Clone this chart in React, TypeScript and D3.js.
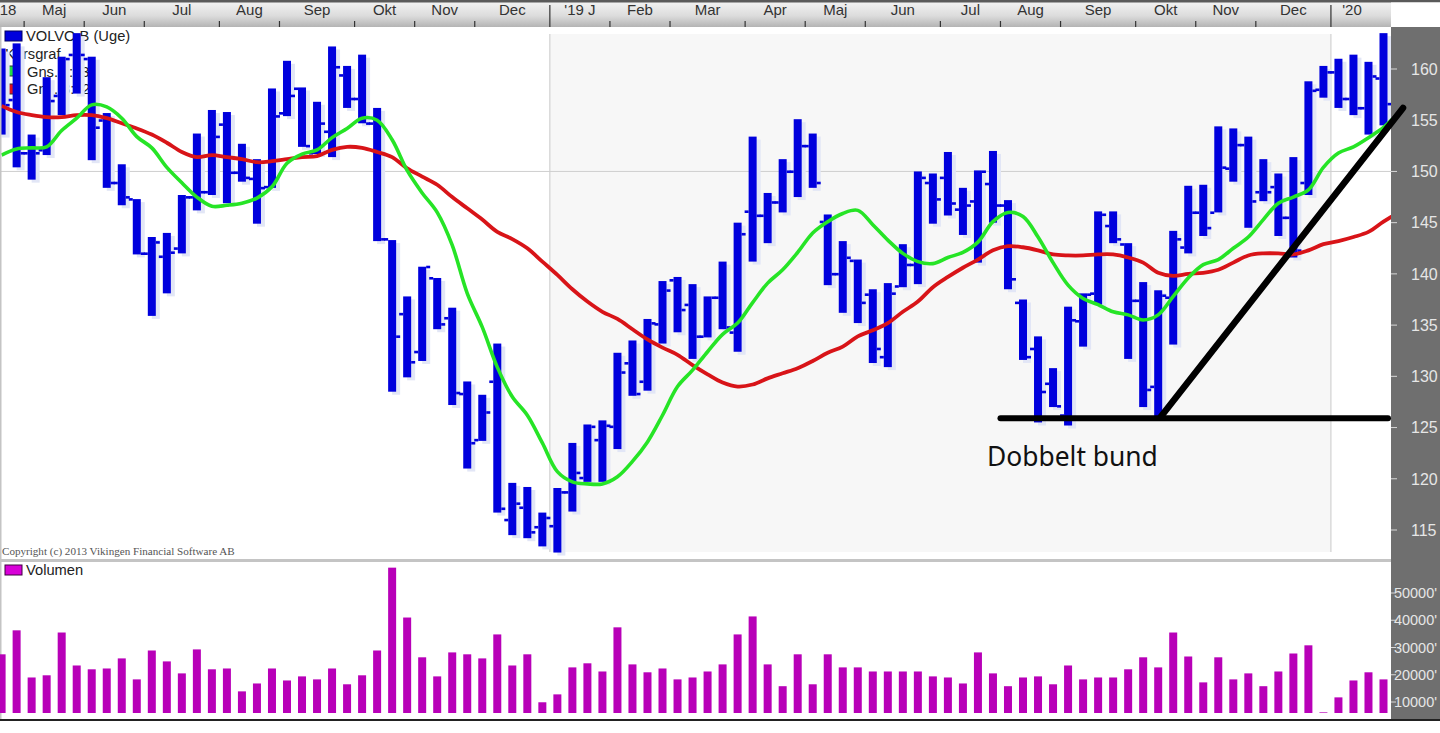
import React from "react";
import * as d3 from "d3";

const highs = [162.0,162.5,153.6,159.2,161.2,163.5,161.2,155.7,150.7,147.3,143.6,144.0,147.7,153.7,156.0,155.8,152.7,151.2,158.1,160.8,158.2,156.8,162.2,160.3,161.4,156.2,143.3,137.8,140.7,139.6,136.7,129.5,128.2,133.2,119.6,119.2,116.7,119.1,123.5,125.3,125.7,132.3,133.5,135.6,139.3,139.7,139.0,137.8,141.2,145.0,153.4,147.9,151.2,155.1,153.7,145.8,143.2,141.4,138.5,139.1,142.9,150.0,149.8,151.9,148.4,150.1,152.0,147.2,137.5,133.9,130.8,136.8,138.1,146.1,146.1,143.0,139.2,138.4,144.2,148.6,148.7,154.4,154.2,153.4,151.2,149.8,151.4,158.8,160.3,161.0,161.4,160.7,163.5];
const lows = [153.6,150.4,149.2,151.6,155.5,157.6,151.1,148.4,146.7,141.9,135.9,138.1,142.0,146.2,147.7,146.9,149.0,144.9,148.4,155.4,152.4,151.7,151.4,156.2,154.7,143.2,128.5,129.9,131.5,134.6,127.2,121.0,123.7,116.7,114.5,114.2,113.4,112.8,116.8,119.7,119.7,122.9,128.1,128.6,133.2,134.3,131.7,133.8,134.6,132.4,141.2,143.0,146.0,147.5,148.4,138.9,136.2,135.2,131.3,130.9,138.7,139.0,144.9,145.7,143.8,141.1,145.0,138.5,131.6,125.5,127.0,125.2,132.9,137.0,143.0,131.7,127.0,126.0,133.1,142.0,143.7,146.0,149.0,144.5,147.1,143.7,141.6,147.7,157.2,156.2,155.5,153.6,154.5];
const opens = [160.9,157.0,151.8,152.1,157.4,161.4,161.0,155.0,148.9,147.3,142.0,141.7,142.5,147.5,148.0,154.6,149.9,149.3,148.5,155.7,158.1,151.8,153.9,159.4,157.1,154.7,143.4,136.1,132.4,139.6,135.7,128.3,123.8,129.5,116.0,117.2,115.3,115.4,118.7,120.1,123.8,125.1,131.3,129.5,135.1,139.4,137.0,133.9,137.7,134.3,146.1,145.7,147.0,150.0,152.5,145.1,140.0,141.3,138.0,131.9,138.8,140.9,148.9,149.4,146.3,147.1,148.8,146.7,137.2,132.7,129.3,126.2,135.4,138.1,144.7,142.9,137.4,129.0,137.7,142.6,146.0,146.0,150.3,152.6,148.0,148.5,145.5,148.9,158.0,159.7,157.1,156.2,159.1];
const closes = [156.5,151.8,151.8,156.9,161.0,161.4,154.3,148.9,147.5,142.0,143.1,142.1,147.5,148.0,153.4,149.9,149.4,148.4,155.4,157.4,152.5,154.7,160.2,157.1,154.7,143.4,133.9,131.4,140.7,135.1,128.4,123.5,126.5,117.1,117.6,114.8,116.2,118.7,120.6,125.1,125.2,130.4,128.3,135.2,138.4,136.5,133.9,137.7,134.8,143.9,145.7,147.0,150.0,152.5,148.9,140.0,141.6,137.2,132.7,138.1,140.9,149.4,147.3,146.9,146.7,150.0,146.7,139.5,131.9,128.5,127.1,135.5,138.0,145.8,143.4,137.4,128.7,137.9,143.4,146.0,144.5,150.4,152.6,147.1,148.0,145.5,142.3,157.9,159.7,157.1,156.2,159.3,156.6];
const avgShort = [151.6,152.2,152.3,152.4,154.0,155.2,156.5,156.3,155.2,153.4,152.3,150.4,148.9,147.5,146.6,146.7,146.9,147.4,148.5,150.8,151.7,152.1,153.3,154.2,155.2,155.0,153.1,150.1,147.9,146.0,142.8,138.1,134.8,130.9,128.0,126.2,123.5,120.7,119.7,119.5,119.5,120.2,121.7,123.6,126.2,129.0,130.6,132.4,134.1,135.2,137.2,139.1,140.4,142.1,144.0,145.1,145.9,146.2,144.8,143.3,142.0,141.2,141.0,141.6,142.1,143.1,145.1,146.0,145.6,143.6,141.1,138.9,137.6,137.0,136.3,136.0,135.5,136.0,137.8,139.6,140.9,141.4,142.5,143.6,145.3,146.9,147.5,148.2,150.4,151.8,152.4,153.3,154.3,155.7];
const avgLong = [156.4,155.8,155.5,155.3,155.3,155.5,155.5,155.2,154.7,154.2,153.6,152.8,151.9,151.4,151.6,151.4,151.2,150.9,151.0,151.2,151.4,151.5,152.1,152.4,152.3,151.9,151.4,150.3,149.5,148.7,147.5,146.4,145.3,144.1,143.4,142.5,141.2,139.9,138.5,137.3,136.3,135.6,134.6,133.6,132.8,132.1,131.1,130.2,129.4,129.0,129.2,129.8,130.3,130.8,131.5,132.3,132.9,133.9,134.5,135.2,136.3,137.3,138.7,139.7,140.6,141.4,142.3,142.7,142.6,142.3,141.9,141.8,141.8,141.9,141.9,141.6,141.1,140.1,139.8,140.0,140.1,140.4,141.1,141.8,142.0,142.0,141.9,142.3,142.9,143.2,143.6,144.1,145.1,146.0];
const volumes = [27.5,36.3,19.0,19.8,35.5,23.4,22.0,22.3,26.0,18.3,28.9,24.9,20.5,29.3,22.0,22.3,13.9,16.8,22.3,17.9,19.4,18.3,22.3,16.5,19.8,28.9,59.3,41.0,26.4,19.4,28.2,27.5,26.0,34.8,23.4,27.5,9.9,12.8,22.7,24.2,21.2,37.4,23.8,20.9,22.3,18.3,19.0,21.2,23.8,34.8,41.4,23.8,15.8,27.5,16.5,27.5,22.7,22.7,21.2,21.2,21.2,21.2,19.4,19.0,16.8,28.2,20.5,15.8,19.0,19.4,16.5,23.4,18.3,19.0,19.0,22.0,26.4,22.7,35.5,26.7,17.2,26.4,18.3,20.5,15.8,21.2,27.8,30.8,6.2,11.7,17.9,20.9,18.3];

const monthTicks = [1.5,5.5,9.5,14.5,18.5,23.5,27.5,31.5,36.5,40.5,44.5,49.5,53.5,57.5,62.5,66.5,70.5,75.5,79.5,83.5,88.5];
const yearTicks = [36.5,88.5];
const monthLabels = ["Maj","Jun","Jul","Aug","Sep","Okt","Nov","Dec","'19 J","Feb","Mar","Apr","Maj","Jun","Jul","Aug","Sep","Okt","Nov","Dec"];
const priceTicks = [115,120,125,130,135,140,145,150,155,160];
const volumeTicks = [10000,20000,30000,40000,50000];
const supportLine = [{ i: 66.5, p: 125.9 }, { i: 92.3, p: 125.9 }];
const trendLine = [{ i: 77.2, p: 126.1 }, { i: 93.3, p: 156.2 }];

const BLUE = "#0000dd";
const SANS = "'Liberation Sans', Arial, sans-serif";

const x = d3.scaleLinear().domain([0, 92]).range([1.6, 1383.5]);
const y = d3.scaleLinear().domain([160, 115]).range([69, 530]);
const yVol = d3.scaleLinear().domain([10000, 50000]).range([702, 593]);
const volBase = 713;
const plotRight = 1391;

const avgLine = d3
  .line<number>()
  .x((_, i) => x(i))
  .y((d) => y(d))
  .curve(d3.curveCatmullRom.alpha(0.5));
const guide = d3
  .line<{ i: number; p: number }>()
  .x((d) => x(d.i))
  .y((d) => y(d.p));

export default function App() {
  const barW = 8;
  const monthEdges = [...monthTicks, 92.5];
  return (
    <svg
      width={1440}
      height={733}
      viewBox="0 0 1440 733"
      style={{ position: "fixed", left: 0, top: 0, display: "block", background: "#fff" }}
    >
      <defs>
        <linearGradient id="band" x1="0" x2="0" y1="0" y2="1">
          <stop offset="0" stopColor="#f2f2f2" />
          <stop offset="0.55" stopColor="#dcdcdc" />
          <stop offset="1" stopColor="#b4b4b4" />
        </linearGradient>
        <clipPath id="plot">
          <rect x={0} y={27} width={plotRight} height={533} />
        </clipPath>
      </defs>

      {/* history background */}
      <rect x={x(36.5)} y={34} width={x(88.5) - x(36.5)} height={518} fill="#f7f7f7" />
      <line x1={x(36.5)} x2={x(36.5)} y1={34} y2={552} stroke="#c9c9c9" />
      <line x1={x(88.5)} x2={x(88.5)} y1={34} y2={552} stroke="#c9c9c9" />
      <line x1={0} x2={plotRight} y1={y(150)} y2={y(150)} stroke="#cfcfcf" />

      {/* legend under the bars */}
      <g fontFamily={SANS} fontSize={14.7} fill="#222">
        <rect x={5} y={31} width={17} height={10} fill={BLUE} stroke="#000060" />
        <text x={26} y={41}>VOLVO B (Uge)</text>
        <text x={5} y={59}>Kursgraf</text>
        <rect x={5} y={66} width={17} height={10} fill="#22dd44" stroke="#333" />
        <text x={27} y={77}>Gns.<tspan x={69}>:13</tspan></text>
        <rect x={5} y={84} width={17} height={10} fill="#dd1122" stroke="#333" />
        <text x={27} y={94}>Gns.<tspan x={62}>8:</tspan><tspan x={82}>24</tspan></text>
      </g>

      <g clipPath="url(#plot)">
        {/* soft shadow */}
        {highs.map((h, i) => (
          <rect
            key={`s${i}`}
            x={x(i) - barW / 2 + 4}
            y={y(h) + 3}
            width={barW}
            height={y(lows[i]) - y(h)}
            fill="#e2e6f6"
          />
        ))}
        {highs.map((h, i) => (
          <g key={`b${i}`} fill={BLUE}>
            <rect x={x(i) - barW / 2} y={y(h)} width={barW} height={y(lows[i]) - y(h)} />
            <rect x={x(i) - barW / 2 - 4} y={y(opens[i]) - 1} width={4} height={2.6} />
            <rect x={x(i) + barW / 2} y={y(closes[i]) - 1} width={4} height={2.6} />
          </g>
        ))}
        <path d={avgLine(avgLong) ?? ""} fill="none" stroke="#d81418" strokeWidth={3.8} strokeLinejoin="round" />
        <path d={avgLine(avgShort) ?? ""} fill="none" stroke="#26e426" strokeWidth={3.6} strokeLinejoin="round" />
      </g>

      <text x={2} y={555} fontFamily="'Liberation Serif', serif" fontSize={11.1} fill="#555">
        Copyright (c) 2013 Vikingen Financial Software AB
      </text>

      {/* frame of the panels */}
      <rect x={0} y={559} width={plotRight} height={3} fill="#c4c4c4" />
      <rect x={0} y={27} width={1.5} height={693} fill="#c4c4c4" />

      {/* volume panel */}
      <rect x={5} y={565} width={17} height={10} fill="#d800d8" stroke="#400040" />
      <text x={26} y={575} fontFamily={SANS} fontSize={14.7} fill="#222">Volumen</text>
      {volumes.map((v, i) => (
        <rect
          key={`v${i}`}
          x={x(i) - barW / 2}
          y={yVol(v * 1000)}
          width={barW}
          height={volBase - yVol(v * 1000)}
          fill="#b800b8"
        />
      ))}

      {/* top month axis */}
      <rect x={0} y={2} width={plotRight} height={25} fill="url(#band)" />
      <rect x={0} y={0} width={1440} height={2.5} fill="#5a5a5a" />
      <rect x={plotRight} y={2.5} width={49} height={24.5} fill="#fff" />
      {monthTicks.map((t) => (
        <line
          key={t}
          x1={x(t)}
          x2={x(t)}
          y1={yearTicks.includes(t) ? 5 : 21}
          y2={27}
          stroke="#333"
          strokeWidth={1.2}
        />
      ))}
      <g fontFamily={SANS} fontSize={15} fill="#333" textAnchor="middle">
        <text x={8} y={15}>18</text>
        {monthLabels.map((m, i) => (
          <text key={i} x={(x(monthEdges[i]) + x(monthEdges[i + 1])) / 2} y={15}>
            {m}
          </text>
        ))}
        <text x={1352} y={15}>'20</text>
      </g>

      {/* right scale panel */}
      <rect x={plotRight} y={27} width={49} height={693} fill="#6f6f6f" />
      <g fontFamily={SANS} fontSize={16} fill="#e6e6e6">
        {priceTicks.map((p) => (
          <g key={p}>
            <line x1={plotRight} x2={plotRight + 6} y1={y(p)} y2={y(p)} stroke="#d8d8d8" />
            <text x={1411} y={y(p)} dy="0.36em">{p}</text>
          </g>
        ))}
      </g>
      <g fontFamily={SANS} fontSize={14.5} fill="#e6e6e6" textAnchor="end">
        {volumeTicks.map((v) => (
          <g key={v}>
            <line x1={plotRight} x2={plotRight + 5} y1={yVol(v)} y2={yVol(v)} stroke="#d8d8d8" />
            <text x={1437} y={yVol(v)} dy="0.36em">{`${v}'`}</text>
          </g>
        ))}
      </g>

      {/* bottom rule */}
      <rect x={0} y={719} width={1440} height={2} fill="#222" />

      {/* annotations */}
      <path d={guide(supportLine) ?? ""} stroke="#000" strokeWidth={6} strokeLinecap="round" fill="none" />
      <path d={guide(trendLine) ?? ""} stroke="#000" strokeWidth={6.5} strokeLinecap="round" fill="none" />
      <text x={987} y={466} fontFamily="'Noto Sans', sans-serif" fontSize={26.4} fill="#111">
        Dobbelt bund
      </text>
    </svg>
  );
}
